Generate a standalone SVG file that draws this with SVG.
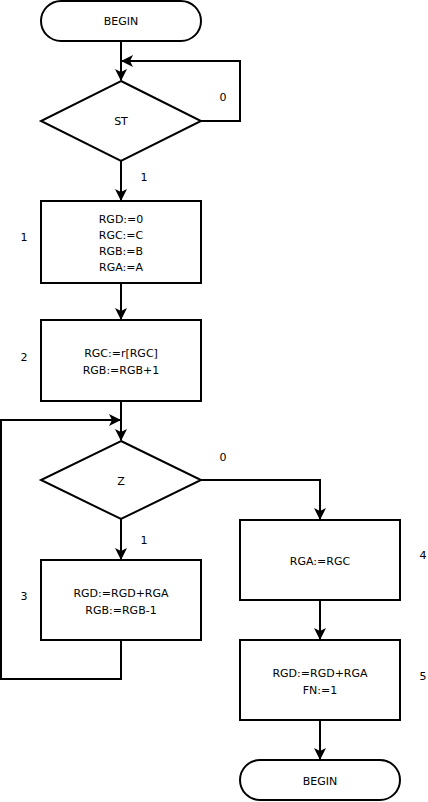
<svg xmlns="http://www.w3.org/2000/svg" width="428" height="802" viewBox="0 0 428 802">
<style>
.n{fill:#fff;stroke:#000;stroke-width:2}
.c{fill:none;stroke:#000;stroke-width:2}
text{font-family:"DejaVu Sans",Verdana,sans-serif;font-size:11px;fill:#000;text-anchor:middle;dominant-baseline:central}
</style>
<defs>
<marker id="a" markerUnits="userSpaceOnUse" markerWidth="12" markerHeight="12" viewBox="0 0 12 12" refX="11" refY="6" orient="auto">
<path d="M0,0 L12,6 L0,12 L3,6 z" fill="#000"/>
</marker>
</defs>
<g id="connectors">
<path class="c" d="M121,41 V80" marker-end="url(#a)"/>
<path class="c" d="M201,121 H240 V61 H122" marker-end="url(#a)"/>
<path class="c" d="M121,161 V200" marker-end="url(#a)"/>
<path class="c" d="M121,283 V319" marker-end="url(#a)"/>
<path class="c" d="M121,401 V440" marker-end="url(#a)"/>
<path class="c" d="M201,480 H320 V519" marker-end="url(#a)"/>
<path class="c" d="M121,519 V559" marker-end="url(#a)"/>
<path class="c" d="M121,640 V679 H1 V420 H120" marker-end="url(#a)"/>
<path class="c" d="M320,600 V639" marker-end="url(#a)"/>
<path class="c" d="M320,720 V759" marker-end="url(#a)"/>
<text x="223" y="97">0</text>
<text x="144" y="177">1</text>
<text x="223" y="457">0</text>
<text x="144" y="540">1</text>
</g>
<g id="begin"><rect class="n" x="41" y="1" width="160" height="40" rx="20"/><text x="121" y="21">BEGIN</text></g>
<g id="st"><polygon class="n" points="121,81 201,121 121,161 41,121"/><text x="121" y="121">ST</text></g>
<g id="b1"><rect class="n" x="41" y="201" width="160" height="82"/>
<text x="121" y="219">RGD:=0</text><text x="121" y="235">RGC:=C</text><text x="121" y="251">RGB:=B</text><text x="121" y="267">RGA:=A</text>
<text x="24" y="237">1</text></g>
<g id="b2"><rect class="n" x="41" y="320" width="160" height="81"/>
<text x="121" y="353">RGC:=r[RGC]</text><text x="121" y="370">RGB:=RGB+1</text>
<text x="24" y="357">2</text></g>
<g id="z"><polygon class="n" points="121,441 201,480 121,519 41,480"/><text x="121" y="481">Z</text></g>
<g id="b3"><rect class="n" x="41" y="560" width="160" height="80"/>
<text x="121" y="593">RGD:=RGD+RGA</text><text x="121" y="610">RGB:=RGB-1</text>
<text x="24" y="596">3</text></g>
<g id="b4"><rect class="n" x="240" y="520" width="160" height="80"/>
<text x="320" y="561">RGA:=RGC</text>
<text x="423" y="555">4</text></g>
<g id="b5"><rect class="n" x="240" y="640" width="160" height="80"/>
<text x="320" y="673">RGD:=RGD+RGA</text><text x="320" y="690">FN:=1</text>
<text x="423" y="676">5</text></g>
<g id="end"><rect class="n" x="240" y="760" width="160" height="40" rx="20"/><text x="320" y="781">BEGIN</text></g>
</svg>
